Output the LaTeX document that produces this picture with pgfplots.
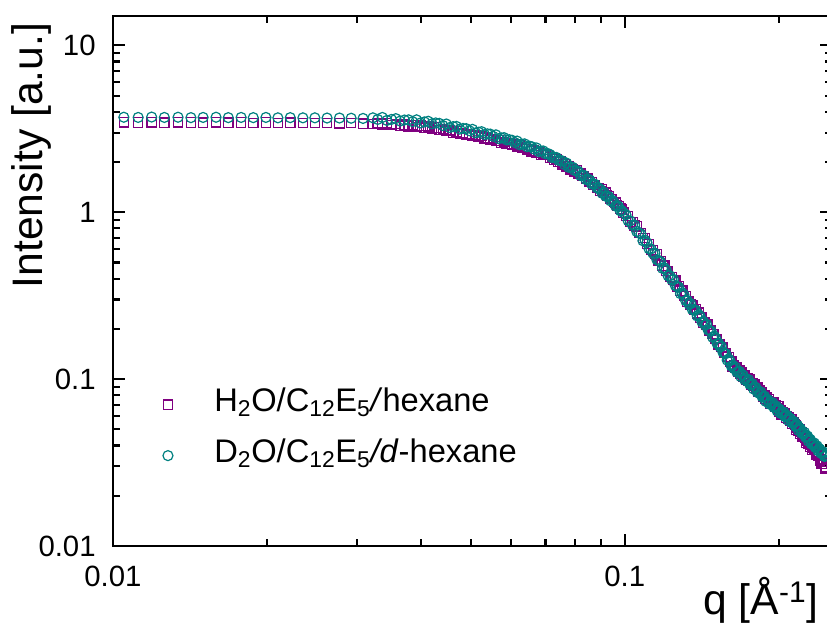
\documentclass[border=0pt]{standalone}
\usepackage{fontspec}
\setmainfont{Liberation Sans}
\usepackage{pgfplots}
\usepackage{pgfplotstable}
\pgfplotsset{compat=1.18}
\definecolor{cpurple}{RGB}{128,0,128}
\definecolor{cteal}{RGB}{0,128,128}
\pgfplotstableread{
q h d
0.0105 3.46 3.71
0.0112 3.45 3.70
0.0119 3.46 3.72
0.0126 3.44 3.70
0.0134 3.46 3.71
0.0142 3.45 3.69
0.0150 3.44 3.70
0.0159 3.46 3.71
0.0168 3.44 3.69
0.0178 3.45 3.70
0.0188 3.43 3.69
0.0199 3.45 3.70
0.0210 3.43 3.68
0.0222 3.44 3.69
0.0235 3.42 3.68
0.0248 3.43 3.68
0.0262 3.42 3.67
0.0277 3.41 3.67
0.0292 3.42 3.66
0.0308 3.40 3.65
0.0322 3.37 3.68
0.0329 3.43 3.60
0.0336 3.36 3.70
0.0343 3.41 3.55
0.0350 3.33 3.60
0.0357 3.39 3.64
0.0364 3.30 3.52
0.0371 3.35 3.57
0.0378 3.27 3.58
0.0385 3.32 3.49
0.0392 3.25 3.58
0.0399 3.30 3.43
0.0406 3.21 3.48
0.0413 3.27 3.51
0.0420 3.18 3.39
0.0427 3.22 3.43
0.0434 3.12 3.41
0.0441 3.16 3.31
0.0448 3.06 3.38
0.0455 3.10 3.22
0.0462 3.00 3.26
0.0469 3.05 3.27
0.0476 2.95 3.15
0.0483 2.99 3.18
0.0490 2.90 3.17
0.0497 2.93 3.08
0.0504 2.88 3.14
0.0511 2.91 2.99
0.0518 2.83 3.02
0.0525 2.86 3.04
0.0532 2.77 2.92
0.0539 2.80 2.95
0.0546 2.72 2.94
0.0553 2.75 2.85
0.0560 2.67 2.91
0.0567 2.69 2.76
0.0574 2.61 2.79
0.0581 2.64 2.80
0.0588 2.56 2.71
0.0595 2.58 2.72
0.0602 2.54 2.70
0.0609 2.56 2.62
0.0616 2.48 2.67
0.0623 2.51 2.54
0.0630 2.43 2.56
0.0637 2.45 2.57
0.0644 2.38 2.47
0.0651 2.39 2.49
0.0658 2.32 2.47
0.0665 2.34 2.39
0.0672 2.27 2.43
0.0679 2.28 2.31
0.0686 2.21 2.33
0.0693 2.23 2.33
0.0700 2.20 2.24
0.0707 2.21 2.25
0.0714 2.13 2.22
0.0721 2.14 2.13
0.0728 2.07 2.14
0.0735 2.08 2.13
0.0742 2.01 2.05
0.0749 2.01 2.05
0.0756 1.94 2.02
0.0763 1.95 1.93
0.0770 1.88 1.97
0.0777 1.88 1.86
0.0784 1.81 1.87
0.0791 1.81 1.86
0.0798 1.74 1.78
0.0805 1.78 1.78
0.0812 1.71 1.75
0.0819 1.72 1.66
0.0826 1.65 1.67
0.0833 1.65 1.66
0.0840 1.58 1.57
0.0847 1.59 1.58
0.0854 1.52 1.56
0.0861 1.52 1.48
0.0868 1.46 1.48
0.0875 1.46 1.47
0.0882 1.40 1.40
0.0889 1.40 1.40
0.0896 1.34 1.37
0.0903 1.37 1.30
0.0910 1.31 1.32
0.0917 1.31 1.25
0.0924 1.26 1.25
0.0931 1.25 1.24
0.0938 1.20 1.17
0.0945 1.20 1.18
0.0952 1.15 1.15
0.0959 1.14 1.09
0.0966 1.10 1.10
0.0973 1.09 1.08
0.0980 1.05 1.02
0.0987 1.04 1.02
0.0994 0.995 0.995
0.1005 0.951 0.966
0.1015 0.950 0.890
0.1025 0.874 0.888
0.1035 0.872 0.838
0.1045 0.830 0.838
0.1055 0.823 0.767
0.1065 0.753 0.753
0.1075 0.749 0.742
0.1085 0.703 0.675
0.1095 0.700 0.680
0.1105 0.647 0.657
0.1115 0.644 0.604
0.1125 0.593 0.602
0.1135 0.590 0.567
0.1145 0.563 0.569
0.1155 0.558 0.520
0.1165 0.512 0.512
0.1175 0.511 0.505
0.1185 0.480 0.461
0.1195 0.479 0.465
0.1205 0.444 0.451
0.1215 0.444 0.416
0.1225 0.410 0.416
0.1235 0.410 0.394
0.1245 0.392 0.396
0.1255 0.390 0.364
0.1265 0.358 0.3585
0.1275 0.359 0.355
0.1285 0.338 0.325
0.1295 0.339 0.329
0.1305 0.315 0.320
0.1315 0.315 0.295
0.1325 0.292 0.296
0.1335 0.293 0.281
0.1345 0.2805 0.283
0.1355 0.279 0.261
0.1365 0.259 0.2595
0.1375 0.262 0.259
0.1385 0.248 0.239
0.1395 0.250 0.243
0.1405 0.233 0.237
0.1415 0.235 0.220
0.1425 0.218 0.221
0.1435 0.219 0.211
0.1445 0.211 0.213
0.1455 0.212 0.197
0.1465 0.195 0.1955
0.1475 0.196 0.194
0.1485 0.186 0.178
0.1495 0.187 0.181
0.1505 0.174 0.176
0.1515 0.174 0.163
0.1525 0.161 0.164
0.1535 0.162 0.156
0.1545 0.1553 0.157
0.1555 0.155 0.145
0.1565 0.143 0.143
0.1575 0.1435 0.142
0.1585 0.1356 0.130
0.1595 0.136 0.132
0.1605 0.1269 0.1288
0.1615 0.1277 0.1196
0.1625 0.1190 0.1209
0.1635 0.1204 0.1157
0.1645 0.1169 0.1180
0.1655 0.1182 0.1103
0.1665 0.1104 0.1105
0.1675 0.1124 0.1113
0.1685 0.1077 0.1035
0.1695 0.1097 0.1065
0.1705 0.1036 0.1052
0.1715 0.1055 0.0989
0.1725 0.0992 0.1007
0.1735 0.1010 0.0970
0.1745 0.0982 0.0992
0.1755 0.0995 0.0928
0.1765 0.0931 0.0931
0.1775 0.0948 0.0939
0.1785 0.0909 0.0873
0.1795 0.0926 0.0898
0.1805 0.0874 0.0887
0.1815 0.0889 0.0834
0.1825 0.0837 0.0849
0.1835 0.0852 0.0819
0.1845 0.0829 0.0837
0.1855 0.0839 0.0783
0.1865 0.0785 0.0785
0.1875 0.0799 0.0791
0.1885 0.0766 0.0736
0.1895 0.0781 0.0758
0.1905 0.0741 0.0752
0.1915 0.0758 0.0710
0.1925 0.0715 0.0726
0.1935 0.0731 0.0703
0.1945 0.0715 0.0722
0.1955 0.0727 0.0678
0.1965 0.0683 0.0683
0.1975 0.0698 0.0691
0.1985 0.0671 0.0645
0.1995 0.0687 0.0667
0.2005 0.0638 0.0661
0.2015 0.0653 0.0624
0.2025 0.0616 0.0638
0.2035 0.0630 0.0618
0.2045 0.0616 0.0634
0.2055 0.0626 0.0596
0.2065 0.0588 0.0600
0.2075 0.0602 0.0608
0.2085 0.0579 0.0567
0.2095 0.0592 0.0587
0.2105 0.0561 0.0581
0.2115 0.0574 0.0549
0.2125 0.0541 0.0561
0.2135 0.0553 0.0543
0.2145 0.0540 0.0556
0.2155 0.0532 0.0521
0.2165 0.0498 0.0524
0.2175 0.0508 0.0529
0.2185 0.0488 0.0493
0.2195 0.0498 0.0509
0.2205 0.0472 0.0504
0.2215 0.0482 0.0475
0.2225 0.0453 0.0484
0.2235 0.0462 0.0467
0.2245 0.0451 0.0479
0.2255 0.0444 0.0449
0.2265 0.0415 0.0451
0.2275 0.0425 0.0456
0.2285 0.0408 0.0425
0.2295 0.0416 0.0438
0.2305 0.0394 0.0434
0.2315 0.0402 0.0409
0.2325 0.0378 0.0417
0.2335 0.0387 0.0403
0.2345 0.0378 0.0414
0.2355 0.0377 0.0390
0.2365 0.0354 0.0393
0.2375 0.0362 0.0398
0.2385 0.0349 0.0372
0.2395 0.0356 0.0384
0.2405 0.0323 0.0380
0.2415 0.0331 0.0360
0.2425 0.0312 0.0368
0.2435 0.0320 0.0356
0.2445 0.0312 0.0366
0.2455 0.0311 0.0344
0.2465 0.0292 0.0347
0.2475 0.0299 0.0352
}\saxs
\begin{document}
\begin{tikzpicture}
\begin{axis}[
  scale only axis, width=539.25pt, height=397.5pt,
  xmode=log, ymode=log,
  xmin=0.01, xmax=0.254, ymin=0.01, ymax=15,
  axis line style={line width=2pt},
  /pgf/number format/assume math mode=true,
  xtick={0.01,0.1}, xticklabels={0.01,0.1},
  ytick={0.01,0.1,1,10}, yticklabels={0.01,0.1,1,10},
  minor xtick={0.02,0.03,0.04,0.05,0.06,0.07,0.08,0.09,0.2},
  minor ytick={0.02,0.03,0.04,0.05,0.06,0.07,0.08,0.09,0.2,0.3,0.4,0.5,0.6,0.7,0.8,0.9,2,3,4,5,6,7,8,9},
  tick align=inside,
  major tick length=9pt, minor tick length=5pt,
  every tick/.style={black, line width=1.6pt},
  ticklabel style={font=\fontsize{22}{26}\selectfont},
  xticklabel style={yshift=-11.5pt},
  yticklabel style={xshift=-9.5pt},
  xlabel={q [Å\textsuperscript{-1}]},
  ylabel={Intensity [a.u.]},
  label style={font=\fontsize{32}{38}\selectfont},
  xlabel style={at={(axis description cs:0.98748,-0.13019)}, anchor=base east},
  ylabel style={at={(axis description cs:-0.09736,0.99623)}, anchor=base east},
  legend cell align=left,
  legend style={draw=none, fill=none, inner sep=0pt, outer sep=0pt,
    at={(axis description cs:0.0695,0.3032)}, anchor=north west,
    font=\fontsize{24.5}{30}\selectfont,
    nodes={text height=18pt, text depth=7pt, inner sep=2pt},
    row sep=9.25pt, column sep=29pt},
]
\addplot[only marks, mark=square, mark size=3.5pt, color=cpurple, mark options={line width=0.9pt}] table[x=q, y=h] {\saxs};
\addlegendentry{H\textsubscript{2}O/C\textsubscript{12}E\textsubscript{5}\textit{/}hexane}
\addplot[only marks, mark=o, mark size=3.75pt, color=cteal, mark options={line width=0.9pt}] table[x=q, y=d] {\saxs};
\addlegendentry{D\textsubscript{2}O/C\textsubscript{12}E\textsubscript{5}\textit{/d}-hexane}
\end{axis}
\pgfresetboundingbox
\path ([shift={(-84.75pt,-59.25pt)}]current axis.south west) rectangle ([shift={(-3.75pt,12pt)}]current axis.north east);
\end{tikzpicture}
\end{document}
